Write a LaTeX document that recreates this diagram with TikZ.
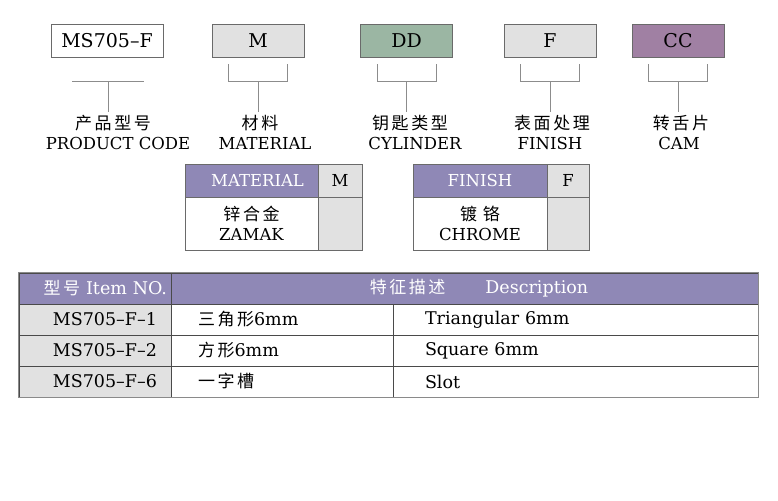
\documentclass[tikz,border=0pt]{standalone}
\usepackage{fontspec}
\setmainfont{DejaVu Serif}
\newfontfamily\cjk[LetterSpace=15]{Noto Sans CJK SC}
\newcommand{\boxfont}{\fontsize{19}{22}\selectfont}
\newcommand{\lblfont}{\fontsize{16.5}{20}\selectfont}
\newcommand{\keyfont}{\fontsize{16.5}{20}\selectfont}
\newcommand{\cellfont}{\fontsize{17.5}{20}\selectfont}
\newcommand{\zh}{\fontsize{17}{20}\selectfont\cjk}

\definecolor{boxline}{HTML}{6A6A6A}
\definecolor{brkline}{HTML}{8C8C8C}
\definecolor{greybox}{HTML}{E1E1E1}
\definecolor{cylgreen}{HTML}{9BB6A3}
\definecolor{campurple}{HTML}{A080A3}
\definecolor{headpurple}{HTML}{8F88B6}
\definecolor{tabline}{HTML}{4A4A4A}
\definecolor{outline}{HTML}{8A8A8A}

\tikzstyle{codebox}=[draw=boxline, line width=0.8pt, minimum width=92pt, minimum height=33pt, inner sep=0pt, font=\boxfont]
\tikzstyle{zhlbl}=[inner sep=3pt, font=\zh]
\tikzstyle{enlbl}=[inner sep=1pt, font=\lblfont]
\tikzstyle{brk}=[draw=brkline, line width=0.9pt]
\tikzstyle{keycell}=[draw=boxline, line width=0.8pt, inner sep=0pt, font=\keyfont, align=center]
\tikzstyle{head}=[fill=headpurple, text=white]
\tikzstyle{tcell}=[draw=tabline, line width=0.7pt, minimum height=31pt, inner ysep=0pt, font=\cellfont]

\begin{document}
\begin{tikzpicture}[x=1pt, y=-1pt]
  \useasboundingbox (0,0) rectangle (778,500);

  % code boxes
  \node[codebox, minimum width=112pt] (pcode) at (107, 40.5) {MS705--F};
  \node[codebox, fill=greybox] (mat) at (258, 40.5) {M};
  \node[codebox, fill=cylgreen] (cyl) at (406.5, 40.5) {DD};
  \node[codebox, fill=greybox] (fin) at (550, 40.5) {F};
  \node[codebox, fill=campurple] (cam) at (678, 40.5) {CC};

  \node[zhlbl] (pcode-zh) at (113, 123) {产品型号};
  \node[enlbl] (pcode-en) at (118, 143) {PRODUCT CODE};
  \node[zhlbl] (mat-zh) at (260, 123) {材料};
  \node[enlbl] (mat-en) at (265, 143) {MATERIAL};
  \node[zhlbl] (cyl-zh) at (410, 123) {钥匙类型};
  \node[enlbl] (cyl-en) at (415, 143) {CYLINDER};
  \node[zhlbl] (fin-zh) at (552, 123) {表面处理};
  \node[enlbl] (fin-en) at (550, 143) {FINISH};
  \node[zhlbl] (cam-zh) at (681, 123) {转舌片};
  \node[enlbl] (cam-en) at (679, 143) {CAM};

  \draw[brk] ([xshift=-35pt,yshift=-24pt]pcode.south) -- ([xshift=37pt,yshift=-24pt]pcode.south);
  \draw[brk] ([xshift=1pt,yshift=-24pt]pcode.south) -- ([xshift=1pt]pcode.south |- pcode-zh.north);
  \draw[brk] ([xshift=-29.5pt,yshift=-7pt]mat.south) |- ([xshift=29.5pt,yshift=-24pt]mat.south) -- ([xshift=29.5pt,yshift=-7pt]mat.south);
  \draw[brk] ([yshift=-24pt]mat.south) -- (mat.south |- mat-zh.north);
  \draw[brk] ([xshift=-29.5pt,yshift=-7pt]cyl.south) |- ([xshift=29.5pt,yshift=-24pt]cyl.south) -- ([xshift=29.5pt,yshift=-7pt]cyl.south);
  \draw[brk] ([yshift=-24pt]cyl.south) -- (cyl.south |- cyl-zh.north);
  \draw[brk] ([xshift=-29.5pt,yshift=-7pt]fin.south) |- ([xshift=29.5pt,yshift=-24pt]fin.south) -- ([xshift=29.5pt,yshift=-7pt]fin.south);
  \draw[brk] ([yshift=-24pt]fin.south) -- (fin.south |- fin-zh.north);
  \draw[brk] ([xshift=-29.5pt,yshift=-7pt]cam.south) |- ([xshift=29.5pt,yshift=-24pt]cam.south) -- ([xshift=29.5pt,yshift=-7pt]cam.south);
  \draw[brk] ([yshift=-24pt]cam.south) -- (cam.south |- cam-zh.north);

  % key tables
  \node[keycell, head, minimum width=133pt, minimum height=33pt] (mathead) at (251.5, 180.5) {\hspace*{12pt}MATERIAL};
  \node[keycell, fill=greybox, minimum width=44pt, minimum height=33pt] (matcode) at (340, 180.5) {M};
  \node[keycell, fill=white, minimum width=133pt, minimum height=53pt] (matbody) at (251.5, 223.5) {{\zh 锌合金}\\ZAMAK};
  \node[keycell, fill=greybox, minimum width=44pt, minimum height=53pt] (matval) at (340, 223.5) {};

  \node[keycell, head, minimum width=134pt, minimum height=33pt] (finhead) at (480, 180.5) {FINISH};
  \node[keycell, fill=greybox, minimum width=42pt, minimum height=33pt] (fincode) at (568, 180.5) {F};
  \node[keycell, fill=white, minimum width=134pt, minimum height=53pt] (finbody) at (480, 223.5) {{\zh 镀\hspace{6pt}铬}\\CHROME};
  \node[keycell, fill=greybox, minimum width=42pt, minimum height=53pt] (finval) at (568, 223.5) {};

  % item table
  \node[tcell, head, text width=144pt, inner xsep=4pt, align=right] (itemhead) at (95, 288.5) {{\zh 型号} Item NO.};
  \node[tcell, head, text width=587pt, inner xsep=0pt, align=center] (deschead) at (464.5, 288.5) {\hspace*{29pt}{\zh 特征描述}\hspace{40pt}Description};

  \node[tcell, fill=greybox, text width=124pt, inner xsep=14pt, align=right] (item1) at (95, 319.5) {MS705--F--1};
  \node[tcell, text width=168pt, inner xsep=27pt, align=left] (zh1) at (282, 319.5) {{\zh 三角形}6mm};
  \node[tcell, text width=301pt, inner xsep=32pt, align=left] (en1) at (575.5, 319.5) {Triangular 6mm};

  \node[tcell, fill=greybox, text width=124pt, inner xsep=14pt, align=right] (item2) at (95, 350.5) {MS705--F--2};
  \node[tcell, text width=168pt, inner xsep=27pt, align=left] (zh2) at (282, 350.5) {{\zh 方形}6mm};
  \node[tcell, text width=301pt, inner xsep=32pt, align=left] (en2) at (575.5, 350.5) {Square 6mm};

  \node[tcell, fill=greybox, text width=124pt, inner xsep=14pt, align=right] (item3) at (95, 381.5) {MS705--F--6};
  \node[tcell, text width=168pt, inner xsep=27pt, align=left] (zh3) at (282, 381.5) {{\zh 一字槽}};
  \node[tcell, text width=301pt, inner xsep=32pt, align=left] (en3) at (575.5, 381.5) {Slot};

  \draw[draw=outline, line width=0.9pt] (itemhead.north west) rectangle (en3.south east);
\end{tikzpicture}
\end{document}
